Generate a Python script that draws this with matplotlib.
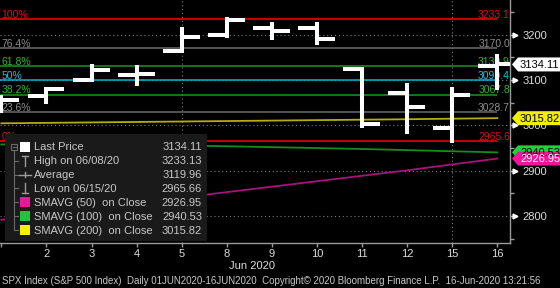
import matplotlib
matplotlib.use('Agg')
import matplotlib.pyplot as plt
import matplotlib.transforms as mtransforms
from matplotlib.patches import Rectangle, Polygon
from matplotlib.ticker import MultipleLocator
import numpy as np

# ---------------- data ----------------
days = ['1', '2', '3', '4', '5', '8', '9', '10', '11', '12', '15', '16']
opens = [3038.78, 3064.78, 3098.90, 3111.56, 3163.84, 3199.92, 3213.32, 3213.42, 3123.53, 3071.04, 2993.76, 3131.00]
highs = [3062.18, 3081.07, 3130.94, 3128.91, 3211.72, 3233.13, 3222.71, 3223.27, 3123.53, 3088.42, 3079.76, 3153.45]
lows = [3031.54, 3051.64, 3098.90, 3090.41, 3163.84, 3196.00, 3193.11, 3181.49, 2999.49, 2984.47, 2965.66, 3083.00]
closes = [3055.73, 3080.82, 3122.87, 3112.35, 3193.93, 3232.39, 3207.18, 3190.14, 3002.10, 3041.31, 3066.59, 3134.11]

sma50 = [2792, 2805, 2817, 2829, 2841, 2853, 2865, 2877, 2889, 2901, 2914, 2926.95]
sma100 = [2958, 2957.5, 2957, 2956.3, 2955.5, 2954, 2952, 2950, 2948, 2945.5, 2943, 2940.53]
sma200 = [3004.5, 3005.5, 3006.5, 3007.5, 3008.5, 3009.5, 3010.5, 3011.5, 3012.5, 3013.5, 3014.7, 3015.82]

fib_pcts = ['100%', '76.4%', '61.8%', '50%', '38.2%', '23.6%', '0%']
fib_vals = [3233.1, 3170.0, 3130.9, 3099.4, 3067.8, 3028.7, 2965.6]
fib_line_colors = ['#c00000', '#6a6a6a', '#1e961e', '#00b4cc', '#1e961e', '#6a6a6a', '#c00000']
fib_text_colors = ['#d41414', '#8c8c8c', '#2fb52f', '#1cc4dc', '#2fb52f', '#8c8c8c', '#d41414']

y_ticks = [2800, 2900, 3000, 3100, 3200]
x_label = 'Jun 2020'
footer = ('SPX Index (S&P 500 Index)  Daily 01JUN2020-16JUN2020  '
          'Copyright\u00a9 2020 Bloomberg Finance L.P.  16-Jun-2020 13:21:56')

legend_labels = ['Last Price', 'High on 06/08/20', 'Average', 'Low on 06/15/20',
                 'SMAVG (50)  on Close', 'SMAVG (100)  on Close', 'SMAVG (200)  on Close']
legend_values = ['3134.11', '3233.13', '3119.96', '2965.66', '2926.95', '2940.53', '3015.82']

last_price = 3134.11
ma_last = [3015.82, 2940.53, 2926.95]

# ---------------- style ----------------
FONT = ['Liberation Sans', 'DejaVu Sans']
plt.rcParams['font.family'] = FONT
W, H = 560, 288
fig = plt.figure(figsize=(W / 100, H / 100), dpi=100, facecolor='black')
ax = fig.add_axes([0, 1 - 243 / H, 510 / W, 243 / H])
ax.set_facecolor('black')
x = np.arange(len(days))
ax.set_xlim(-0.03, 11.28)
ax.set_ylim(2741, 3276)

# grid (dotted)
for v in y_ticks:
    ax.axhline(v, color='#7c7c7c', lw=0.8, ls=(0, (1, 2.5)), zorder=1)
for xi in [4, 10]:
    ax.axvline(xi, color='#7c7c7c', lw=0.8, ls=(0, (1, 2.5)), zorder=1)

blend = mtransforms.blended_transform_factory(ax.transAxes, ax.transData)

# fibonacci levels
for pct, v, lc, tc in zip(fib_pcts, fib_vals, fib_line_colors, fib_text_colors):
    lw = 1.5 if lc == '#c00000' else 1.1
    ax.hlines(v, -0.03, x[-1], color=lc, lw=lw, zorder=2)
    ax.annotate(pct, xy=(0.003, v), xycoords=blend, xytext=(0, 1.0),
                textcoords='offset points', ha='left', va='baseline',
                color=tc, fontsize=7.5, zorder=3)
    ax.annotate(f'{v:.1f}', xy=(1.0, v), xycoords=blend, xytext=(0, 1.0),
                textcoords='offset points', ha='right', va='baseline',
                color=tc, fontsize=7.5, zorder=3)

# moving averages
ax.plot(x, sma200, color='#b4ac10', lw=1.3, zorder=2)
ax.plot(x, sma100, color='#148c1e', lw=1.3, zorder=2)
ax.plot(x, sma50, color='#a8127a', lw=1.3, zorder=2)

# OHLC bars
bw = 2.9
for i in range(len(days)):
    ax.vlines(x[i], lows[i], highs[i], color='white', lw=bw, zorder=5, capstyle='projecting')
    ax.hlines(opens[i], x[i] - 0.42, x[i], color='white', lw=bw, zorder=5)
    ax.hlines(closes[i], x[i], x[i] + 0.40, color='white', lw=bw, zorder=5)

# axes styling
for s in ['left', 'top']:
    ax.spines[s].set_visible(False)
for s in ['right', 'bottom']:
    ax.spines[s].set_color('#9a9a9a')
    ax.spines[s].set_linewidth(1.0)
ax.yaxis.tick_right()
ax.set_yticks(y_ticks)
ax.set_yticklabels([str(v) for v in y_ticks])
ax.yaxis.set_minor_locator(MultipleLocator(50))
ax.tick_params(axis='y', which='major', length=4, width=1, color='#bbbbbb',
               labelcolor='#dcdcdc', labelsize=8, pad=5)
ax.tick_params(axis='y', which='minor', length=3, width=1, color='#9a9a9a')
ax.plot([1.009] * len(y_ticks), y_ticks, transform=blend, marker='>', ms=3.5,
        color='white', ls='none', clip_on=False, zorder=6)
ax.set_xticks(x)
ax.set_xticklabels([''] + days[1:])
ax.tick_params(axis='x', length=3, width=1, color='#9a9a9a', labelcolor='#dcdcdc',
               labelsize=8, pad=1.5)

# ---------------- overlay in pixel coordinates ----------------
ov = fig.add_axes([0, 0, 1, 1], zorder=10)
ov.set_xlim(0, W)
ov.set_ylim(H, 0)
ov.axis('off')
ov.patch.set_alpha(0)

fig.canvas.draw()


def ypix(v):
    return H - ax.transData.transform((0, v))[1]


# right value boxes
def value_box(v, txt, fc, tc):
    yc = ypix(v)
    h = 7
    poly = Polygon([(512, yc), (518, yc - h), (W + 2, yc - h), (W + 2, yc + h), (518, yc + h)],
                   closed=True, facecolor=fc, edgecolor='none', zorder=11)
    ov.add_patch(poly)
    ov.text(520, yc + 0.5, txt, ha='left', va='center', color=tc, fontsize=8, zorder=12)


value_box(last_price, f'{last_price:.2f}', '#ffffff', 'black')
value_box(ma_last[0], f'{ma_last[0]:.2f}', '#f2ee00', 'black')
value_box(ma_last[1], f'{ma_last[1]:.2f}', '#1fd13a', 'black')
value_box(ma_last[2], f'{ma_last[2]:.2f}', '#f0169c', 'white')

# legend
ov.add_patch(Rectangle((5, 134), 202, 107, facecolor='#1a1a1a', edgecolor='none', zorder=11))
row_y = [147, 160.5, 174.5, 188, 202, 216, 230]
tree_c = '#6a6a6a'
ov.plot([14, 14], [150, 230], color=tree_c, lw=0.8, zorder=12)
for ry in row_y[1:]:
    ov.plot([14, 18], [ry, ry], color=tree_c, lw=0.8, zorder=12)
ov.add_patch(Rectangle((11, 144), 6, 6, facecolor='#1a1a1a', edgecolor=tree_c, lw=0.8, zorder=13))
ov.plot([12.5, 15.5], [147, 147], color=tree_c, lw=0.8, zorder=14)

swatch_colors = ['#ffffff', None, None, None, '#f0169c', '#22c23a', '#f5f000']
for ry, c in zip(row_y, swatch_colors):
    if c:
        ov.add_patch(Rectangle((20, ry - 5), 10, 10, facecolor=c, edgecolor='none', zorder=12))
sym_c = '#9a9a9a'
# high symbol
ov.plot([25, 25], [row_y[1] - 5, row_y[1] + 5], color=sym_c, lw=1, zorder=12)
ov.plot([22, 28], [row_y[1] - 5, row_y[1] - 5], color=sym_c, lw=1, zorder=12)
# average symbol
ov.plot([19, 31], [row_y[2], row_y[2]], color=sym_c, lw=1, zorder=12)
ov.plot([25, 25], [row_y[2] - 2.5, row_y[2] + 2.5], color=sym_c, lw=1, zorder=12)
# low symbol
ov.plot([25, 25], [row_y[3] - 5, row_y[3] + 5], color=sym_c, lw=1, zorder=12)
ov.plot([22, 28], [row_y[3] + 5, row_y[3] + 5], color=sym_c, lw=1, zorder=12)

for ry, lab, val in zip(row_y, legend_labels, legend_values):
    ov.text(34, ry + 0.5, lab, ha='left', va='center', color='#c8c8c8', fontsize=8, zorder=12)
    ov.text(202, ry + 0.5, val, ha='right', va='center', color='#c8c8c8', fontsize=8, zorder=12)

# bottom texts
ov.text(252, 266, x_label, ha='center', va='center', color='#dcdcdc', fontsize=8)
ov.text(2, 281, footer, ha='left', va='center', color='#c8c8c8', fontsize=7.05)

fig.savefig('out.png', dpi=100, facecolor='black')
